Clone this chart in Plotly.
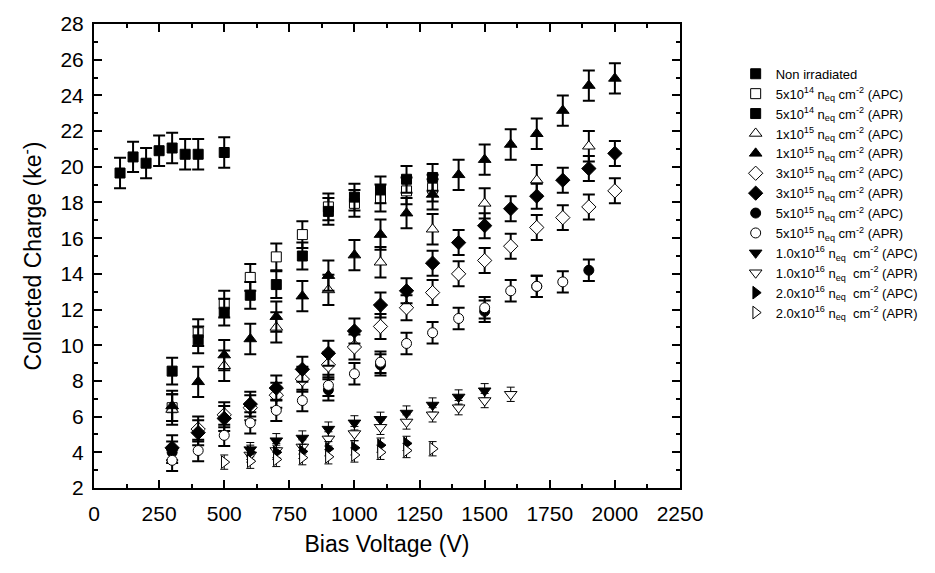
import plotly.graph_objects as go

# ---------------- data ----------------
v_non = [100, 150, 200, 250, 300, 350, 400, 500]
q_non = [19.65, 20.55, 20.2, 20.9, 21.05, 20.7, 20.7, 20.8]

v_5e14_apc = [300, 400, 500, 600, 700, 800, 900, 1000, 1100, 1200, 1300]
q_5e14_apc = [6.5, 10.7, 12.3, 13.8, 14.95, 16.2, 17.75, 17.95, 18.25, 18.65, 18.8]
v_5e14_apr = [300, 400, 500, 600, 700, 800, 900, 1000, 1100, 1200, 1300]
q_5e14_apr = [8.55, 10.3, 11.85, 12.8, 13.4, 15.0, 17.5, 18.3, 18.7, 19.3, 19.4]

v_1e15_apc = [300, 500, 700, 900, 1100, 1300, 1500, 1700, 1900]
q_1e15_apc = [6.4, 8.85, 11.0, 13.1, 14.65, 16.5, 17.95, 19.25, 21.15]
v_1e15_apr = [300, 400, 500, 600, 700, 800, 900, 1000, 1100, 1200, 1300, 1400,
              1500, 1600, 1700, 1800, 1900, 2000]
q_1e15_apr = [6.6, 7.95, 9.45, 10.35, 11.6, 12.75, 13.9, 15.05, 16.2, 17.4, 18.45, 19.55,
              20.4, 21.25, 21.85, 23.15, 24.55, 24.95]

v_3e15_apc = [400, 500, 600, 700, 800, 900, 1000, 1100, 1200, 1300, 1400, 1500,
              1600, 1700, 1800, 1900, 2000]
q_3e15_apc = [5.3, 6.1, 6.5, 7.2, 8.1, 8.9, 9.9, 11.05, 12.1, 12.95, 14.0, 14.75,
              15.55, 16.6, 17.15, 17.75, 18.65]
v_3e15_apr = [300, 400, 500, 600, 700, 800, 900, 1000, 1100, 1200, 1300, 1400,
              1500, 1600, 1700, 1800, 1900, 2000]
q_3e15_apr = [4.25, 5.1, 5.9, 6.7, 7.6, 8.65, 9.55, 10.8, 12.25, 13.05, 14.6, 15.75,
              16.7, 17.65, 18.35, 19.25, 19.9, 20.75]

v_5e15_apc = [300, 900, 1100, 1500, 1700, 1900]
q_5e15_apc = [4.0, 7.5, 8.9, 11.9, 13.3, 14.2]
v_5e15_apr = [300, 400, 500, 600, 700, 800, 900, 1000, 1100, 1200, 1300, 1400,
              1500, 1600, 1700, 1800]
q_5e15_apr = [3.55, 4.1, 4.95, 5.65, 6.35, 6.9, 7.75, 8.4, 9.05, 10.1, 10.7, 11.5,
              12.1, 13.05, 13.3, 13.55]

v_1e16_apc = [600, 700, 800, 900, 1000, 1100, 1200, 1300, 1400, 1500]
q_1e16_apc = [4.15, 4.65, 4.8, 5.3, 5.65, 5.85, 6.2, 6.65, 7.1, 7.45]
v_1e16_apr = [600, 700, 800, 900, 1000, 1100, 1200, 1300, 1400, 1500, 1600]
q_1e16_apr = [3.85, 4.1, 4.3, 4.75, 5.05, 5.4, 5.7, 6.1, 6.5, 6.9, 7.25]

v_2e16_apc = [600, 700, 800, 900, 1000, 1100, 1200]
q_2e16_apc = [4.0, 4.0, 4.05, 4.2, 4.25, 4.4, 4.5]
v_2e16_apr = [500, 600, 700, 800, 900, 1000, 1100, 1200, 1300]
q_2e16_apr = [3.45, 3.5, 3.6, 3.7, 3.75, 3.85, 4.0, 4.1, 4.2]

# symmetric error per series
err = {
    "non": 0.85, "5e14": 0.75, "1e15": 0.85, "3e15": 0.7,
    "5e15": 0.6, "1e16": 0.4, "2e16": 0.4,
}

names = [
    "Non irradiated",
    "5x10<sup>14</sup> n<sub>eq</sub> cm<sup>-2</sup> (APC)",
    "5x10<sup>14</sup> n<sub>eq</sub> cm<sup>-2</sup> (APR)",
    "1x10<sup>15</sup> n<sub>eq</sub> cm<sup>-2</sup> (APC)",
    "1x10<sup>15</sup> n<sub>eq</sub> cm<sup>-2</sup> (APR)",
    "3x10<sup>15</sup> n<sub>eq</sub> cm<sup>-2</sup> (APC)",
    "3x10<sup>15</sup> n<sub>eq</sub> cm<sup>-2</sup> (APR)",
    "5x10<sup>15</sup> n<sub>eq</sub> cm<sup>-2</sup> (APC)",
    "5x10<sup>15</sup> n<sub>eq</sub> cm<sup>-2</sup> (APR)",
    "1.0x10<sup>16</sup> n<sub>eq</sub>  cm<sup>-2</sup> (APC)",
    "1.0x10<sup>16</sup> n<sub>eq</sub>  cm<sup>-2</sup> (APR)",
    "2.0x10<sup>16</sup> n<sub>eq</sub>  cm<sup>-2</sup> (APC)",
    "2.0x10<sup>16</sup> n<sub>eq</sub>  cm<sup>-2</sup> (APR)",
]

series = [
    (v_non, q_non, "square", True, 10, "non"),
    (v_5e14_apc, q_5e14_apc, "square", False, 10, "5e14"),
    (v_5e14_apr, q_5e14_apr, "square", True, 10, "5e14"),
    (v_1e15_apc, q_1e15_apc, "triangle-up", False, 11, "1e15"),
    (v_1e15_apr, q_1e15_apr, "triangle-up", True, 11, "1e15"),
    (v_3e15_apc, q_3e15_apc, "diamond", False, 11, "3e15"),
    (v_3e15_apr, q_3e15_apr, "diamond", True, 11, "3e15"),
    (v_5e15_apc, q_5e15_apc, "circle", True, 10, "5e15"),
    (v_5e15_apr, q_5e15_apr, "circle", False, 10, "5e15"),
    (v_1e16_apc, q_1e16_apc, "triangle-down", True, 11, "1e16"),
    (v_1e16_apr, q_1e16_apr, "triangle-down", False, 11, "1e16"),
    (v_2e16_apc, q_2e16_apc, "triangle-right", True, 11, "2e16"),
    (v_2e16_apr, q_2e16_apr, "triangle-right", False, 11, "2e16"),
]

FONT = "Arial, Liberation Sans, sans-serif"

fig = go.Figure()
for name, (xs, ys, sym, filled, size, ek) in zip(names, series):
    thin = ek in ("1e16", "2e16")
    fig.add_trace(go.Scatter(
        x=xs, y=ys, mode="markers", name=name,
        marker=dict(symbol=sym, size=size,
                    color="black" if filled else "white",
                    line=dict(color="black", width=1)),
        error_y=dict(type="constant", value=err[ek], color="black",
                     thickness=1 if thin else 2, width=4 if thin else 6),
    ))

fig.update_layout(
    width=935, height=573,
    margin=dict(l=94, r=255, t=16, b=85),
    plot_bgcolor="white", paper_bgcolor="white",
    font=dict(family=FONT, color="black"),
    showlegend=True,
    legend=dict(x=1.095, y=0.925, xanchor="left", yanchor="top",
                font=dict(size=13, family=FONT), bgcolor="rgba(0,0,0,0)",
                tracegroupgap=0, itemwidth=30),
    xaxis=dict(range=[0, 2250], dtick=250, tick0=0, showgrid=False, zeroline=False,
               showline=True, linecolor="black", linewidth=2, mirror="ticks",
               ticks="inside", ticklen=8, tickwidth=2, tickcolor="black",
               tickfont=dict(size=21, family=FONT), ticklabelstandoff=6,
               minor=dict(ticks="inside", dtick=125, ticklen=4, tickwidth=2,
                          tickcolor="black", showgrid=False),
               title=dict(text="Bias Voltage (V)", font=dict(size=23, family=FONT),
                          standoff=12)),
    yaxis=dict(range=[2, 28], dtick=2, tick0=2, showgrid=False, zeroline=False,
               showline=True, linecolor="black", linewidth=2, mirror="ticks",
               ticks="inside", ticklen=8, tickwidth=2, tickcolor="black",
               tickfont=dict(size=21, family=FONT), ticklabelstandoff=4,
               minor=dict(ticks="inside", dtick=1, ticklen=4, tickwidth=2,
                          tickcolor="black", showgrid=False),
               title=dict(text="Collected Charge (ke<sup>-</sup>)",
                          font=dict(size=23, family=FONT), standoff=12)),
)

fig.write_html("out.html")
